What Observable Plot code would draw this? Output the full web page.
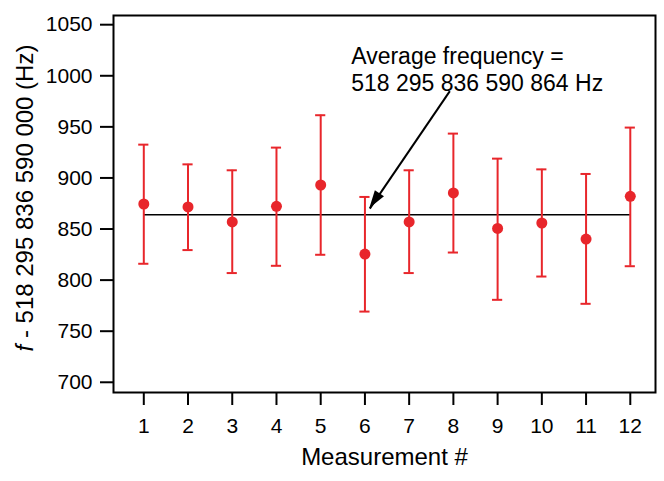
<!DOCTYPE html>
<html><head><meta charset="utf-8">
<script src="https://cdn.jsdelivr.net/npm/d3@7"></script>
<script src="https://cdn.jsdelivr.net/npm/@observablehq/plot@0.6"></script>
<style>
body{margin:0;background:#fff;}
svg [aria-label="x-axis tick"], svg [aria-label="y-axis tick"], svg .tick line {stroke-width:2;}
</style></head><body><div id="chart"></div>
<script>
const measurements = [1, 2, 3, 4, 5, 6, 7, 8, 9, 10, 11, 12];
const freqValues  = [874.5, 871.6, 856.9, 872.2, 893.1, 825.5, 856.9, 885.3, 850.6, 855.9, 840.2, 882.0];
const upperValues = [932.6, 913.3, 907.5, 929.7, 961.4, 881.4, 907.5, 943.4, 918.9, 908.4, 903.9, 949.3];
const lowerValues = [816.0, 829.4, 806.9, 814.0, 824.8, 769.2, 806.9, 827.0, 780.7, 803.5, 776.8, 813.6];
const averageValue = 864;
const yTicks = [700, 750, 800, 850, 900, 950, 1000, 1050];
const xTicks = [1, 2, 3, 4, 5, 6, 7, 8, 9, 10, 11, 12];
const xLabel = "Measurement #";
const yLabelItalic = "f";
const yLabelRest = " - 518 295 836 590 000 (Hz)";
const annotationLines = ["Average frequency =", "518 295 836 590 864 Hz"];
const annotationAt = [5.69, 1030];
const arrowFrom = [7.92, 985];
const arrowTo = [6.11, 870];

const red = "#e8262b";
const rows = measurements.map((m, i) => ({m, v: freqValues[i], hi: upperValues[i], lo: lowerValues[i]}));
const avgRow = [{x1: measurements[0], x2: measurements[measurements.length - 1], y: averageValue}];
const capHalf = 0.115;

function arrowHead(index, scales) {
  const x1 = scales.x(arrowFrom[0]), y1 = scales.y(arrowFrom[1]);
  const x2 = scales.x(arrowTo[0]), y2 = scales.y(arrowTo[1]);
  const a = Math.atan2(y2 - y1, x2 - x1);
  const L = 18, W = 5.5;
  const bx = x2 - L * Math.cos(a), by = y2 - L * Math.sin(a);
  const px = -Math.sin(a) * W, py = Math.cos(a) * W;
  return d3.create("svg:path")
    .attr("d", `M${x2},${y2}L${bx + px},${by + py}L${bx - px},${by - py}Z`)
    .attr("fill", "black").node();
}

const plot = Plot.plot({
  width: 664, height: 481,
  marginLeft: 113, marginRight: 9, marginTop: 15, marginBottom: 89,
  style: {fontFamily: "'Liberation Sans', Arial, sans-serif", fontSize: "21px", color: "black", background: "white"},
  x: {domain: [0.315, 12.57], ticks: xTicks, tickSize: 13, tickPadding: 13, tickFormat: d => String(d), label: null},
  y: {domain: [690, 1059], ticks: yTicks, tickSize: 13, tickPadding: 8, tickFormat: d => String(d), label: null},
  marks: [
    Plot.ruleY(avgRow, {y: "y", x1: "x1", x2: "x2", stroke: "black", strokeWidth: 1.5}),
    Plot.ruleX(rows, {x: "m", y1: "lo", y2: "hi", stroke: red, strokeWidth: 2}),
    Plot.ruleY(rows, {y: "hi", x1: d => d.m - capHalf, x2: d => d.m + capHalf, stroke: red, strokeWidth: 2}),
    Plot.ruleY(rows, {y: "lo", x1: d => d.m - capHalf, x2: d => d.m + capHalf, stroke: red, strokeWidth: 2}),
    Plot.dot(rows, {x: "m", y: "v", r: 5.5, fill: red, stroke: "none"}),
    Plot.link([0], {x1: () => arrowFrom[0], y1: () => arrowFrom[1], x2: () => arrowTo[0], y2: () => arrowTo[1], stroke: "black", strokeWidth: 2}),
    arrowHead,
    Plot.text([annotationLines.join("\n")], {x: () => annotationAt[0], y: () => annotationAt[1], text: d => d, textAnchor: "start", lineAnchor: "top", fontSize: 23, lineHeight: 1.17, fill: "black"}),
    Plot.text([xLabel], {frameAnchor: "bottom", text: d => d, lineAnchor: "top", dy: 55, fontSize: 24, fill: "black"}),
    Plot.text([yLabelItalic + yLabelRest], {frameAnchor: "left", text: d => d, rotate: -90, textAnchor: "middle", lineAnchor: "middle", dx: -88, dy: -6, fontSize: 24, fill: "black"}),
    Plot.frame({stroke: "black", strokeWidth: 2})
  ]
});
d3.select(plot).selectAll("text").each(function() {
  if (this.textContent === yLabelItalic + yLabelRest) {
    const t = d3.select(this);
    t.text(null);
    t.append("tspan").attr("font-style", "italic").text(yLabelItalic);
    t.append("tspan").text(yLabelRest);
  }
});
document.getElementById("chart").appendChild(plot);
</script></body></html>
